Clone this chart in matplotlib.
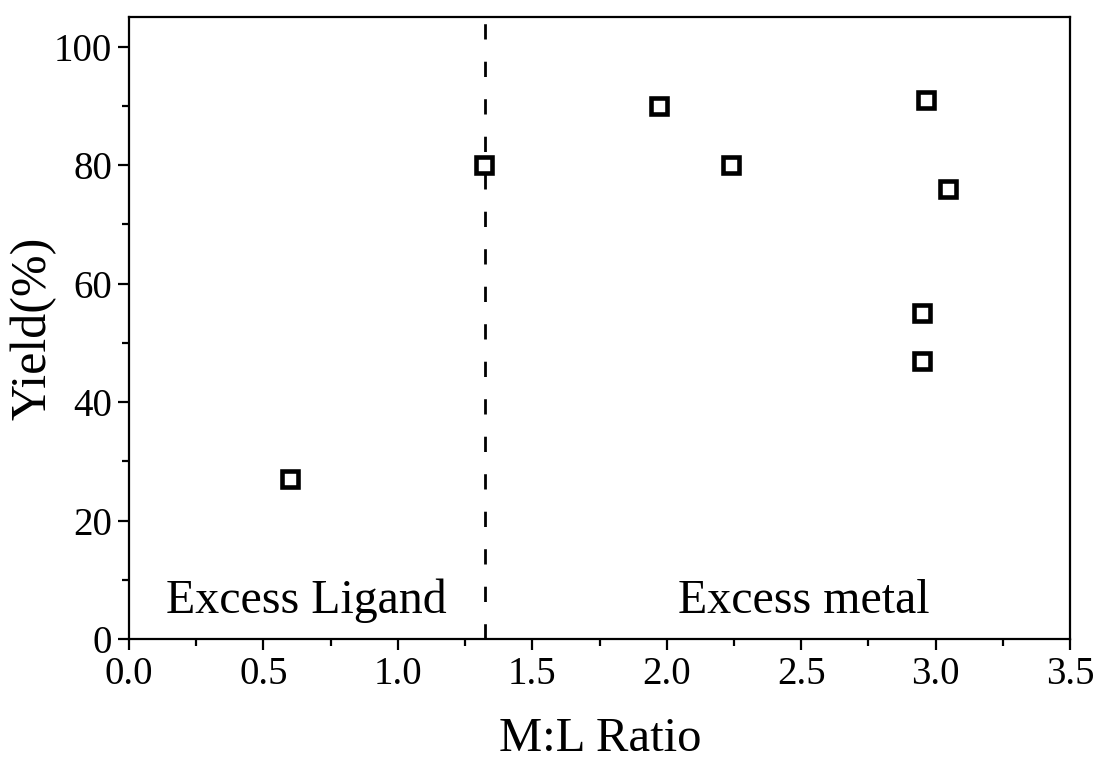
import matplotlib
matplotlib.use("Agg")
import matplotlib.pyplot as plt
from matplotlib.ticker import MultipleLocator

# M:L ratio vs yield
ratio = [0.6, 1.32, 1.97, 2.24, 2.965, 3.045, 2.948, 2.948]
yield_pct = [27, 80, 90, 80, 91, 76, 55, 47]
boundary = 1.323

plt.rcParams['font.family'] = ['Liberation Serif', 'DejaVu Serif']

fig = plt.figure(figsize=(10.96, 7.6), dpi=100)
ax = fig.add_axes([0.1177, 0.1592, 0.8586, 0.8184])

ax.plot(ratio, yield_pct, linestyle='none', marker='s', markersize=11.8,
        markerfacecolor='white', markeredgecolor='black', markeredgewidth=3.3,
        zorder=3)
ax.axvline(boundary, color='black', linewidth=2, linestyle=(0, (5.5, 8)))

ax.text(0.66, 4.4, 'Excess Ligand', fontsize=34.5, ha='center', va='baseline')
ax.text(2.51, 4.4, 'Excess metal', fontsize=34.5, ha='center', va='baseline')

ax.set_xlim(0, 3.5)
ax.set_ylim(0, 105)
ax.xaxis.set_major_locator(MultipleLocator(0.5))
ax.xaxis.set_minor_locator(MultipleLocator(0.25))
ax.yaxis.set_major_locator(MultipleLocator(20))
ax.yaxis.set_minor_locator(MultipleLocator(10))
ax.set_xticks([0, 0.5, 1.0, 1.5, 2.0, 2.5, 3.0, 3.5])
ax.set_xticklabels(['0.0', '0.5', '1.0', '1.5', '2.0', '2.5', '3.0', '3.5'])

for s in ax.spines.values():
    s.set_linewidth(1.6)
ax.tick_params(which='major', direction='out', length=8, width=1.6,
               labelsize=28, pad=4)
ax.tick_params(which='minor', direction='out', length=5, width=1.6)

# x label sits close to the bottom edge
fig.text(0.5474, 1 - 751 / 760, 'M:L Ratio', fontsize=35,
         ha='center', va='baseline')
ax.set_ylabel('Yield(%)', fontsize=36, labelpad=-2)

fig.savefig('out.png', dpi=100)
